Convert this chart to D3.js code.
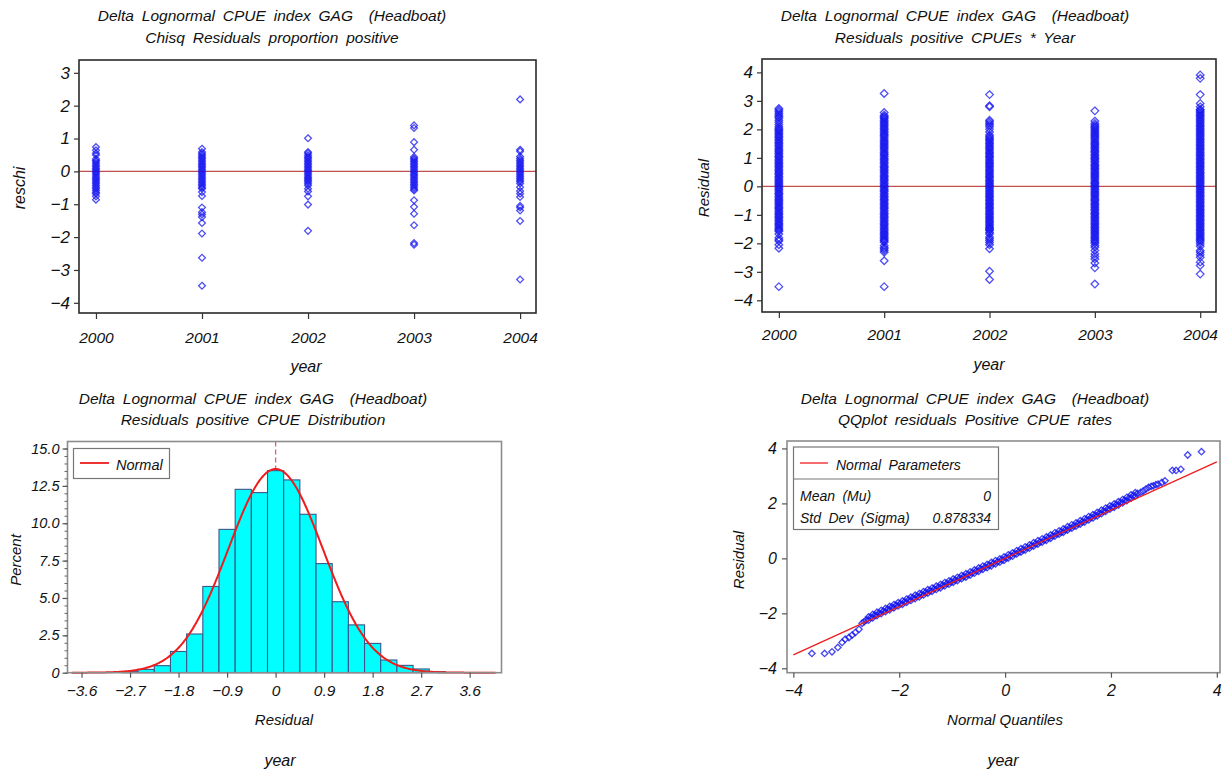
<!DOCTYPE html>
<html><head><meta charset="utf-8">
<script src="https://cdn.jsdelivr.net/npm/d3@7"></script>
<style>
body{margin:0;background:#fff;}
svg{display:block;font-family:"Liberation Sans",Arial,Helvetica,sans-serif;}
text{font-style:italic;fill:#111;}
.ttl{white-space:pre;word-spacing:3.5px;}
</style></head><body>
<svg id="c" width="1228" height="775"></svg>
<script>
// ---------------- DATA ----------------
const years = [2000, 2001, 2002, 2003, 2004];

// Chisq residuals, proportion positive (top-left)
const reschi2000 = [0.74, 0.64, 0.55, 0.50, 0.38, 0.33, 0.29, 0.24, 0.19, 0.14, 0.09, 0.05, 0.00, -0.04, -0.09, -0.14, -0.19, -0.23, -0.28, -0.33, -0.38, -0.43, -0.48, -0.53, -0.58, -0.64, -0.68, -0.76, -0.86];
const reschi2001 = [0.69, 0.59, 0.54, 0.49, 0.44, 0.40, 0.35, 0.30, 0.25, 0.20, 0.16, 0.11, 0.06, 0.01, -0.04, -0.09, -0.14, -0.19, -0.24, -0.29, -0.34, -0.39, -0.44, -0.49, -0.53, -0.63, -0.75, -1.10, -1.24, -1.31, -1.39, -1.57, -1.89, -2.63, -3.48];
const reschi2002 = [1.01, 0.59, 0.55, 0.49, 0.44, 0.40, 0.35, 0.30, 0.25, 0.20, 0.15, 0.10, 0.05, 0.01, -0.04, -0.09, -0.14, -0.19, -0.23, -0.28, -0.32, -0.38, -0.43, -0.53, -0.61, -0.76, -1.01, -1.81];
const reschi2003 = [1.40, 1.32, 0.89, 0.66, 0.44, 0.39, 0.35, 0.30, 0.25, 0.20, 0.15, 0.10, 0.05, 0.00, -0.05, -0.10, -0.14, -0.19, -0.24, -0.29, -0.34, -0.39, -0.44, -0.49, -0.54, -0.58, -0.88, -1.08, -1.29, -1.64, -2.18, -2.23];
const reschi2004 = [2.19, 0.66, 0.61, 0.45, 0.39, 0.34, 0.29, 0.24, 0.19, 0.14, 0.09, 0.04, -0.01, -0.06, -0.11, -0.16, -0.21, -0.26, -0.31, -0.37, -0.48, -0.60, -0.68, -0.78, -1.05, -1.10, -1.19, -1.51, -3.29];

// Residuals positive CPUEs by year (top-right)
const res2000 = [2.73, 2.68, 2.62, 2.56, 2.50, 2.44, 2.40, 2.32, 2.25, 2.17, 2.09, 1.99, 1.90, 1.80, 1.71, 1.60, 1.50, 1.41, 1.30, 1.21, 1.10, 1.01, 0.90, 0.80, 0.71, 0.60, 0.50, 0.41, 0.30, 0.20, 0.11, 0.01, -0.09, -0.20, -0.29, -0.40, -0.50, -0.59, -0.70, -0.79, -0.90, -1.00, -1.09, -1.20, -1.30, -1.39, -1.50, -1.58, -1.67, -1.80, -1.87, -1.92, -2.05, -2.17, -3.52,
  2.04, 1.95, 1.85, 1.75, 1.65, 1.55, 1.45, 1.35, 1.25, 1.15, 1.05, 0.95, 0.85, 0.75, 0.65, 0.55, 0.45, 0.35, 0.25, 0.15, 0.06, -0.04, -0.14, -0.25, -0.35, -0.45, -0.55, -0.65, -0.75, -0.85, -0.95, -1.05, -1.15, -1.25, -1.35, -1.45, -1.54];
const res2001 = [3.26, 2.59, 2.50, 2.45, 2.42, 2.37, 2.32, 2.27, 2.18, 2.08, 1.99, 1.88, 1.79, 1.69, 1.58, 1.49, 1.39, 1.30, 1.19, 1.10, 0.99, 0.90, 0.80, 0.69, 0.60, 0.50, 0.39, 0.30, 0.21, 0.10, 0.00, -0.10, -0.19, -0.30, -0.40, -0.49, -0.60, -0.70, -0.79, -0.90, -1.00, -1.09, -1.20, -1.30, -1.39, -1.50, -1.60, -1.69, -1.79, -1.88, -1.96, -2.08, -2.15, -2.19, -2.25, -2.31, -2.61, -3.52,
  2.22, 2.13, 2.03, 1.93, 1.83, 1.74, 1.63, 1.53, 1.44, 1.35, 1.24, 1.14, 1.05, 0.95, 0.85, 0.74, 0.65, 0.55, 0.45, 0.35, 0.25, 0.15, 0.05, -0.05, -0.15, -0.25, -0.35, -0.45, -0.55, -0.65, -0.75, -0.85, -0.95, -1.05, -1.15, -1.25, -1.35, -1.45, -1.55, -1.65, -1.74, -1.84, -1.92];
const res2002 = [3.22, 2.83, 2.79, 2.32, 2.27, 2.21, 2.15, 2.09, 2.00, 1.91, 1.80, 1.70, 1.61, 1.50, 1.40, 1.31, 1.20, 1.10, 1.01, 0.90, 0.80, 0.71, 0.60, 0.50, 0.40, 0.31, 0.20, 0.10, 0.01, -0.09, -0.20, -0.30, -0.39, -0.50, -0.60, -0.70, -0.79, -0.90, -1.00, -1.10, -1.20, -1.29, -1.39, -1.48, -1.55, -1.62, -1.67, -1.78, -1.84, -1.90, -1.97, -2.05, -2.19, -2.98, -3.27,
  1.75, 1.65, 1.55, 1.45, 1.35, 1.25, 1.15, 1.05, 0.95, 0.85, 0.75, 0.65, 0.55, 0.45, 0.35, 0.25, 0.15, 0.05, -0.05, -0.15, -0.25, -0.35, -0.45, -0.55, -0.65, -0.75, -0.85, -0.95, -1.05, -1.15, -1.25, -1.35, -1.44, -1.52];
const res2003 = [2.65, 2.29, 2.21, 2.15, 2.06, 1.96, 1.86, 1.77, 1.67, 1.56, 1.47, 1.37, 1.27, 1.18, 1.07, 0.98, 0.88, 0.77, 0.68, 0.58, 0.48, 0.39, 0.29, 0.18, 0.09, -0.01, -0.11, -0.21, -0.30, -0.41, -0.50, -0.61, -0.70, -0.80, -0.91, -1.00, -1.10, -1.20, -1.30, -1.40, -1.50, -1.60, -1.70, -1.80, -1.90, -2.00, -2.08, -2.14, -2.25, -2.37, -2.46, -2.55, -2.69, -2.86, -3.43,
  2.10, 2.01, 1.91, 1.81, 1.72, 1.62, 1.51, 1.42, 1.32, 1.22, 1.12, 1.02, 0.93, 0.83, 0.72, 0.63, 0.53, 0.43, 0.34, 0.24, 0.13, 0.04, -0.06, -0.16, -0.26, -0.35, -0.45, -0.55, -0.65, -0.75, -0.85, -0.95, -1.05, -1.15, -1.25, -1.35, -1.45, -1.55, -1.65, -1.75, -1.85, -1.95];
const res2004 = [3.91, 3.79, 3.22, 2.91, 2.79, 2.70, 2.68, 2.58, 2.49, 2.39, 2.29, 2.19, 2.09, 1.99, 1.89, 1.79, 1.69, 1.59, 1.49, 1.39, 1.29, 1.19, 1.09, 0.99, 0.89, 0.79, 0.69, 0.59, 0.49, 0.39, 0.29, 0.19, 0.09, -0.01, -0.11, -0.21, -0.31, -0.41, -0.51, -0.61, -0.71, -0.81, -0.91, -1.01, -1.11, -1.21, -1.31, -1.41, -1.51, -1.61, -1.71, -1.81, -1.90, -1.95, -2.02, -2.10, -2.25, -2.31, -2.40, -2.49, -2.66, -2.78, -3.08,
  2.63, 2.53, 2.44, 2.34, 2.24, 2.14, 2.04, 1.94, 1.84, 1.74, 1.64, 1.54, 1.44, 1.34, 1.24, 1.14, 1.04, 0.94, 0.84, 0.74, 0.64, 0.54, 0.44, 0.34, 0.24, 0.14, 0.04, -0.06, -0.16, -0.26, -0.36, -0.46, -0.56, -0.66, -0.76, -0.86, -0.96, -1.06, -1.16, -1.26, -1.36, -1.46, -1.56, -1.66, -1.76, -1.86];

// Histogram (bottom-left): bin midpoints and percents
const binMid = [-2.7, -2.4, -2.1, -1.8, -1.5, -1.2, -0.9, -0.6, -0.3, 0, 0.3, 0.6, 0.9, 1.2, 1.5, 1.8, 2.1, 2.4, 2.7, 3.0];
const binPct = [0.07, 0.22, 0.47, 1.42, 2.59, 5.77, 9.59, 12.27, 12.05, 13.52, 12.9, 10.6, 7.3, 4.75, 3.2, 1.96, 0.85, 0.49, 0.25, 0.07];
const binWidth = 0.3;
const histXTicks = [-3.6, -2.7, -1.8, -0.9, 0, 0.9, 1.8, 2.7, 3.6];
const histYTicks = [0, 2.5, 5.0, 7.5, 10.0, 12.5, 15.0];

// Normal parameters
const normMu = 0;
const normSigma = 0.878334;
const curveRange = [-3.78, 4.08];

// QQ plot (bottom-right): normal quantiles vs residuals
const qqX = [-3.65, -3.41, -3.27, -3.16, -3.08, -3.02, -2.95, -2.89, -2.83, -2.76, -2.70, -2.66,
  -2.62, -2.54, -2.46, -2.38, -2.30, -2.22, -2.14, -2.06, -1.98, -1.90, -1.82, -1.74, -1.66, -1.58, -1.50, -1.42, -1.34, -1.26, -1.18, -1.10, -1.02, -0.94, -0.86, -0.78, -0.70, -0.62, -0.54, -0.46, -0.38, -0.30, -0.22, -0.14, -0.06,
  0.02, 0.10, 0.18, 0.26, 0.34, 0.42, 0.50, 0.58, 0.66, 0.74, 0.82, 0.90, 0.98, 1.06, 1.14, 1.22, 1.30, 1.38, 1.46, 1.54, 1.62, 1.70, 1.78, 1.86, 1.94, 2.02, 2.10, 2.18, 2.26, 2.34, 2.42, 2.50,
  2.56, 2.61, 2.66, 2.71, 2.76, 2.80, 2.85, 2.89, 2.96, 3.02, 3.16, 3.23, 3.32, 3.45, 3.71,
  -2.58, -2.50, -2.42, -2.34, -2.26, -2.18, -2.10, -2.02, -1.94, -1.86, -1.78, -1.70, -1.62, -1.54, -1.46, -1.38, -1.30, -1.22, -1.14, -1.06, -0.98, -0.90, -0.82, -0.74, -0.66, -0.58, -0.50, -0.42, -0.34, -0.26, -0.18, -0.10, -0.02,
  0.06, 0.14, 0.22, 0.30, 0.38, 0.46, 0.54, 0.62, 0.70, 0.78, 0.86, 0.94, 1.02, 1.10, 1.18, 1.26, 1.34, 1.42, 1.50, 1.58, 1.66, 1.74, 1.82, 1.90, 1.98, 2.06, 2.14, 2.22, 2.30, 2.38, 2.46,
  -2.58, -2.50, -2.42, -2.34, -2.26, -2.18, -2.10, -2.02, -1.94, -1.86, -1.78, -1.70, -1.62, -1.54, -1.46, -1.38, -1.30, -1.22, -1.14, -1.06, -0.98, -0.90, -0.82, -0.74, -0.66, -0.58, -0.50, -0.42, -0.34, -0.26, -0.18, -0.10, -0.02,
  0.06, 0.14, 0.22, 0.30, 0.38, 0.46, 0.54, 0.62, 0.70, 0.78, 0.86, 0.94, 1.02, 1.10, 1.18, 1.26, 1.34, 1.42, 1.50, 1.58, 1.66, 1.74, 1.82, 1.90, 1.98, 2.06, 2.14, 2.22, 2.30, 2.38, 2.46];
const qqY = [-3.46, -3.46, -3.40, -3.24, -3.06, -2.94, -2.88, -2.79, -2.70, -2.58, -2.36, -2.30,
  -2.24, -2.15, -2.07, -1.99, -1.92, -1.85, -1.78, -1.71, -1.65, -1.58, -1.51, -1.44, -1.38, -1.31, -1.24, -1.18, -1.11, -1.05, -0.98, -0.92, -0.85, -0.79, -0.72, -0.66, -0.59, -0.52, -0.45, -0.38, -0.32, -0.25, -0.18, -0.12, -0.05,
  0.02, 0.10, 0.17, 0.24, 0.31, 0.39, 0.46, 0.53, 0.60, 0.67, 0.75, 0.82, 0.89, 0.96, 1.04, 1.11, 1.18, 1.26, 1.33, 1.41, 1.48, 1.56, 1.64, 1.72, 1.80, 1.87, 1.95, 2.03, 2.11, 2.19, 2.28, 2.36,
  2.40, 2.45, 2.52, 2.58, 2.62, 2.64, 2.68, 2.70, 2.76, 2.82, 3.20, 3.20, 3.24, 3.76, 3.88,
  -2.13, -2.04, -1.96, -1.89, -1.82, -1.75, -1.68, -1.61, -1.55, -1.48, -1.41, -1.34, -1.28, -1.21, -1.14, -1.08, -1.01, -0.95, -0.88, -0.82, -0.75, -0.69, -0.62, -0.56, -0.49, -0.42, -0.35, -0.28, -0.22, -0.15, -0.08, -0.02, 0.05,
  0.13, 0.20, 0.28, 0.35, 0.42, 0.49, 0.57, 0.64, 0.71, 0.78, 0.85, 0.93, 1.00, 1.07, 1.15, 1.22, 1.29, 1.37, 1.44, 1.52, 1.59, 1.67, 1.75, 1.83, 1.91, 1.98, 2.06, 2.14, 2.22, 2.31, 2.39,
  -2.25, -2.16, -2.08, -2.01, -1.94, -1.87, -1.80, -1.73, -1.67, -1.60, -1.53, -1.46, -1.40, -1.33, -1.26, -1.20, -1.13, -1.07, -1.00, -0.94, -0.87, -0.81, -0.74, -0.68, -0.61, -0.54, -0.47, -0.40, -0.34, -0.27, -0.20, -0.14, -0.07,
  0.01, 0.08, 0.16, 0.23, 0.30, 0.37, 0.45, 0.52, 0.59, 0.66, 0.73, 0.81, 0.88, 0.95, 1.03, 1.10, 1.17, 1.25, 1.32, 1.40, 1.47, 1.55, 1.63, 1.71, 1.79, 1.86, 1.94, 2.02, 2.10, 2.19, 2.27];
const qqTicks = [-4, -2, 0, 2, 4];
const qqLineX = [-4, 4];

const titleMain = "Delta Lognormal CPUE index GAG  (Headboat)";
const subTitles = ["Chisq Residuals proportion positive", "Residuals positive CPUEs * Year",
  "Residuals positive CPUE Distribution", "QQplot residuals Positive CPUE rates"];

// ---------------- DRAW ----------------
const svg = d3.select("#c");
const diamond = r => `M0,${-r}L${r},0L0,${r}L${-r},0Z`;
const markStroke = "#1414f0";

function titles(cx, y1, y2, sub) {
  svg.append("text").attr("class","ttl").attr("x",cx).attr("y",y1).attr("text-anchor","middle").attr("font-size",15.5).text(titleMain);
  svg.append("text").attr("class","ttl").attr("x",cx).attr("y",y2).attr("text-anchor","middle").attr("font-size",15.5).text(sub);
}
function vlabel(x, y, t, fs) {
  svg.append("text").attr("transform",`translate(${x},${y}) rotate(-90)`).attr("text-anchor","middle").attr("font-size",fs).text(t);
}
function hlabel(x, y, t, fs) {
  svg.append("text").attr("x",x).attr("y",y).attr("text-anchor","middle").attr("font-size",fs).text(t);
}
function styleAxis(sel, fs, col) {
  sel.select(".domain").remove();
  sel.selectAll(".tick line").attr("stroke", col).attr("stroke-width", 1.2);
  sel.selectAll(".tick text").attr("font-size", fs).style("font-style","italic").attr("fill","#111");
  sel.attr("font-family", null);
}

// ---- scatter panels ----
function scatterPanel(o) {
  const x = d3.scaleLinear().domain([1999.84, 2004.15]).range([o.x0, o.x1]);
  const y = d3.scaleLinear().domain(o.yDomain).range([o.y1, o.y0]);
  const g = svg.append("g");
  g.append("line").attr("x1",o.x0).attr("x2",o.x1).attr("y1",y(0)).attr("y2",y(0))
    .attr("stroke","#c0504d").attr("stroke-width",1.2);
  o.values.forEach((vals, i) => {
    g.append("g").selectAll("path").data(vals).join("path")
      .attr("d", diamond(o.r))
      .attr("transform", d => `translate(${x(years[i])},${y(d)})`)
      .attr("fill","none").attr("stroke",markStroke).attr("stroke-width",1.3).attr("stroke-opacity",0.75);
  });
  g.append("rect").attr("x",o.x0).attr("y",o.y0).attr("width",o.x1-o.x0).attr("height",o.y1-o.y0)
    .attr("fill","none").attr("stroke","#2a2a2a").attr("stroke-width",1.6);
  g.append("g").attr("transform",`translate(0,${o.y1})`)
    .call(d3.axisBottom(x).tickValues(years).tickFormat(d3.format("d")).tickSize(6).tickPadding(o.xPad))
    .call(s => styleAxis(s, 15.5, "#333"));
  g.append("g").attr("transform",`translate(${o.x0},0)`)
    .call(d3.axisLeft(y).tickValues(o.yTicks).tickFormat(d3.format("d")).tickSize(5).tickPadding(4))
    .call(s => styleAxis(s, 17, "#333"));
}

scatterPanel({x0:79, x1:536, y0:60, y1:313, yDomain:[-4.31, 3.39], yTicks:[-4,-3,-2,-1,0,1,2,3],
  values:[reschi2000, reschi2001, reschi2002, reschi2003, reschi2004], r:3.4, xPad:13});
titles(272, 21, 43, subTitles[0]);
vlabel(25, 188, "reschi", 16);
hlabel(306, 372, "year", 16);

scatterPanel({x0:762, x1:1216, y0:59, y1:312, yDomain:[-4.41, 4.47], yTicks:[-4,-3,-2,-1,0,1,2,3,4],
  values:[res2000, res2001, res2002, res2003, res2004], r:3.8, xPad:11});
titles(955, 21, 43, subTitles[1]);
vlabel(709, 188, "Residual", 15);
hlabel(989, 370, "year", 16);

// ---- histogram ----
(function(){
  const x0=67.5, x1=501.5, y0=441.5, y1=672.7;
  const x = d3.scaleLinear().domain([-3.86, 4.19]).range([x0, x1]);
  const y = d3.scaleLinear().domain([0, 15.47]).range([y1, y0]);
  const g = svg.append("g");
  g.selectAll("rect.bar").data(binMid).join("rect").attr("class","bar")
    .attr("x", (d) => x(d - binWidth/2)).attr("width", (d) => x(d + binWidth/2) - x(d - binWidth/2))
    .attr("y", (d,i) => y(binPct[i])).attr("height", (d,i) => y1 - y(binPct[i]))
    .attr("fill","#00ffff").attr("stroke","#3a5688").attr("stroke-width",1.1);
  const pdf = v => Math.exp(-0.5*((v-normMu)/normSigma)**2)/(normSigma*Math.sqrt(2*Math.PI));
  const pts = d3.range(curveRange[0], curveRange[1]+0.001, 0.02).map(v => [v, 100*binWidth*pdf(v)]);
  g.append("line").attr("x1",x(normMu)).attr("x2",x(normMu)).attr("y1",y0).attr("y2",y(100*binWidth*pdf(normMu)))
    .attr("stroke","#e06070").attr("stroke-width",1.3).attr("stroke-dasharray","5,3");
  g.append("path").attr("d", d3.line().x(d=>x(d[0])).y(d=>y(d[1]))(pts))
    .attr("fill","none").attr("stroke","#ee1c1c").attr("stroke-width",2);
  g.append("rect").attr("x",x0).attr("y",y0).attr("width",x1-x0).attr("height",y1-y0)
    .attr("fill","none").attr("stroke","#8c8c8c").attr("stroke-width",1.6);
  // legend
  g.append("rect").attr("x",73.5).attr("y",448.5).attr("width",96).attr("height",30)
    .attr("fill","#fff").attr("stroke","#777").attr("stroke-width",1.2);
  g.append("line").attr("x1",80).attr("x2",109).attr("y1",463).attr("y2",463).attr("stroke","#ee1c1c").attr("stroke-width",1.8);
  g.append("text").attr("x",116).attr("y",469.5).attr("font-size",14.5).text("Normal");
  g.append("g").attr("transform",`translate(0,${y1})`)
    .call(d3.axisBottom(x).tickValues(histXTicks).tickFormat(d => d===0 ? "0" : d3.format(".1f")(d)).tickSize(5).tickPadding(7))
    .call(s => styleAxis(s, 15.5, "#555"));
  g.append("g").attr("transform",`translate(${x0},0)`)
    .call(d3.axisLeft(y).tickValues(d3.range(0, 15.01, 0.5)).tickFormat("").tickSize(3))
    .call(s => { s.select(".domain").remove(); s.selectAll(".tick line").attr("stroke","#666"); });
  g.append("g").attr("transform",`translate(${x0},0)`)
    .call(d3.axisLeft(y).tickValues(histYTicks).tickFormat(d => d===0 ? "0" : d3.format(".1f")(d)).tickSize(5).tickPadding(3))
    .call(s => styleAxis(s, 14.5, "#555"));
})();
titles(253, 404, 425, subTitles[2]);
vlabel(21, 560, "Percent", 15);
hlabel(284, 725, "Residual", 15);
hlabel(280, 766, "year", 16);

// ---- QQ plot ----
(function(){
  const x0=787, x1=1220, y0=441, y1=672.7;
  const x = d3.scaleLinear().domain([-4.12, 4.06]).range([x0, x1]);
  const y = d3.scaleLinear().domain([-4.16, 4.27]).range([y1, y0]);
  const g = svg.append("g");
  g.append("g").selectAll("path").data(qqX).join("path")
    .attr("d", diamond(3.2))
    .attr("transform", (d,i) => `translate(${x(d)},${y(qqY[i])})`)
    .attr("fill","none").attr("stroke",markStroke).attr("stroke-width",1.35).attr("stroke-opacity",0.78);
  g.append("line").attr("x1",x(qqLineX[0])).attr("x2",x(qqLineX[1]))
    .attr("y1",y(normMu+normSigma*qqLineX[0])).attr("y2",y(normMu+normSigma*qqLineX[1]))
    .attr("stroke","#ee1c1c").attr("stroke-width",1.3);
  g.append("rect").attr("x",x0).attr("y",y0).attr("width",x1-x0).attr("height",y1-y0)
    .attr("fill","none").attr("stroke","#8c8c8c").attr("stroke-width",1.6);
  // legend
  g.append("rect").attr("x",793.5).attr("y",447).attr("width",205).attr("height",82.5)
    .attr("fill","#fff").attr("stroke","#777").attr("stroke-width",1.2);
  g.append("line").attr("x1",793.5).attr("x2",998.5).attr("y1",479).attr("y2",479).attr("stroke","#777").attr("stroke-width",1.2);
  g.append("line").attr("x1",800).attr("x2",828).attr("y1",463).attr("y2",463).attr("stroke","#ee1c1c").attr("stroke-width",1.3);
  g.append("text").attr("class","ttl").attr("x",836).attr("y",470).attr("font-size",14).text("Normal Parameters");
  g.append("text").attr("class","ttl").attr("x",800).attr("y",501).attr("font-size",14).text("Mean (Mu)");
  g.append("text").attr("x",991).attr("y",501).attr("font-size",14).attr("text-anchor","end").text(String(normMu));
  g.append("text").attr("class","ttl").attr("x",800).attr("y",523).attr("font-size",14).text("Std Dev (Sigma)");
  g.append("text").attr("x",991).attr("y",523).attr("font-size",14).attr("text-anchor","end").text(String(normSigma));
  g.append("g").attr("transform",`translate(0,${y1})`)
    .call(d3.axisBottom(x).tickValues(qqTicks).tickFormat(d3.format("d")).tickSize(5).tickPadding(7))
    .call(s => styleAxis(s, 16, "#555"));
  g.append("g").attr("transform",`translate(${x0},0)`)
    .call(d3.axisLeft(y).tickValues(qqTicks).tickFormat(d3.format("d")).tickSize(5).tickPadding(5))
    .call(s => styleAxis(s, 16, "#555"));
})();
titles(975, 404, 425, subTitles[3]);
vlabel(744, 560, "Residual", 15);
hlabel(1005, 725, "Normal Quantiles", 15);
hlabel(1003, 766, "year", 16);
</script>
</body></html>
